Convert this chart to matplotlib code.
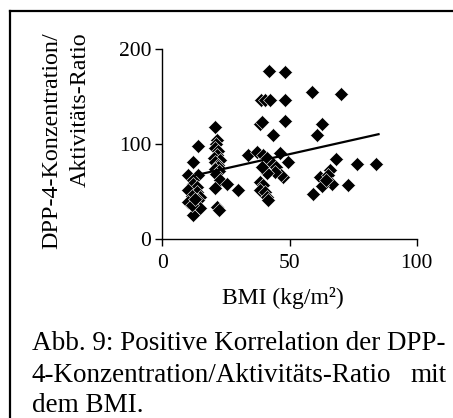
import matplotlib.pyplot as plt
from matplotlib.lines import Line2D

plt.rcParams['font.family'] = ['Liberation Serif', 'DejaVu Serif']

# BMI (kg/m2) and DPP-4 concentration/activity ratio per patient
bmi = [11.9, 14.2, 10.2, 14.2, 12.2, 12.2, 13.5, 10.2, 13.5, 11.7, 14.8, 10.2,
       14.2, 12.8, 14.8, 12.2, 11.5, 13.0,
       20.7, 21.4, 21.0, 20.7, 22.0, 21.4, 20.4, 22.5, 20.7, 21.8, 22.0, 20.7,
       22.4, 21.2, 22.7, 20.7, 21.4, 22.4, 25.3,
       29.9, 33.5, 37.1, 39.5, 41.0, 43.6, 44.5, 46.3, 49.5, 47.6, 46.5, 44.3,
       41.0, 39.1, 38.4, 39.7, 38.4, 40.4, 41.0, 41.5, 38.7, 40.5, 42.3, 48.2,
       42.0, 48.2, 38.4, 39.0, 43.6, 48.2,
       58.7, 70.1, 62.6, 60.7, 68.3, 76.4, 83.9, 62.0, 65.9, 65.3, 66.6, 62.6,
       59.4, 73.1, 64.5]
ratio = [80.4, 97.9, 67.0, 67.0, 62.0, 58.0, 54.0, 51.0, 49.5, 45.0, 44.0, 39.0,
         40.7, 36.0, 32.0, 25.0, 35.0, 42.0,
         118.0, 104.0, 100.0, 95.0, 92.0, 88.0, 85.0, 83.0, 81.0, 78.0, 75.8, 73.0,
         71.0, 68.0, 62.0, 53.0, 33.7, 30.0, 58.0,
         51.0, 88.0, 91.6, 88.0, 84.6, 79.0, 75.0, 90.0, 81.0, 65.0, 67.0, 70.5,
         69.0, 75.8, 60.0, 57.0, 51.0, 49.5, 44.0, 41.0, 146.0, 146.0, 146.0, 146.0,
         177.0, 176.0, 121.0, 123.0, 109.0, 124.0,
         154.0, 152.0, 121.0, 109.0, 83.5, 79.0, 79.0, 65.0, 72.0, 67.0, 58.0, 55.0,
         46.7, 56.5, 62.0]

# linear trend line
fit_slope = 0.6
fit_intercept = 59.0
fit_x = [13.0, 85.0]
fit_y = [fit_intercept + fit_slope * v for v in fit_x]

fig = plt.figure(figsize=(4.53, 4.18), dpi=100)
ax = fig.add_axes([162.3 / 453, 1 - 238.7 / 418, 254.4 / 453, 190 / 418])

ax.plot(bmi, ratio, linestyle='none', marker='D', markersize=7.3,
        markerfacecolor='black', markeredgecolor='white', markeredgewidth=0.4,
        clip_on=False)
ax.plot(fit_x, fit_y, color='black', linewidth=1.6)

ax.set_xlim(0, 100)
ax.set_ylim(0, 200)
ax.set_xticks([0, 50, 100])
ax.set_yticks([0, 100, 200])
ax.spines['top'].set_visible(False)
ax.spines['right'].set_visible(False)
for s in ['left', 'bottom']:
    ax.spines[s].set_linewidth(1.0)
ax.tick_params(direction='out', length=5, width=1.0, labelsize=15.5)
ax.tick_params(axis='y', pad=3)
ax.tick_params(axis='x', pad=6)

fig.text(283 / 453, 1 - 298 / 418, 'BMI (kg/m²)', ha='center', va='center',
         fontsize=17)

fig.text(52 / 453, 1 - 32 / 418, 'DPP-4-Konzentration/', rotation=90,
         ha='center', va='top', fontsize=17.3)
fig.text(80 / 453, 1 - 32 / 418, 'Aktivitäts-Ratio', rotation=90,
         ha='center', va='top', fontsize=17.3)

cap = 19.5
fig.text(32 / 453, 1 - 343 / 418, 'Abb. 9: Positive Korrelation der DPP-',
         ha='left', va='center', fontsize=cap)
fig.text(32 / 453, 1 - 375 / 418, '4-Konzentration/Aktivitäts-Ratio',
         ha='left', va='center', fontsize=cap)
fig.text(447 / 453, 1 - 375 / 418, 'mit', ha='right', va='center', fontsize=cap)
fig.text(32 / 453, 1 - 406 / 418, 'dem BMI.', ha='left', va='center',
         fontsize=cap)

# frame around the figure
fig.add_artist(Line2D([10 / 453, 1.0], [1 - 11 / 418, 1 - 11 / 418],
                      transform=fig.transFigure, color='black', linewidth=1.6))
fig.add_artist(Line2D([10 / 453, 10 / 453], [0.0, 1 - 11 / 418],
                      transform=fig.transFigure, color='black', linewidth=1.6))

fig.savefig('out.png', dpi=100)
